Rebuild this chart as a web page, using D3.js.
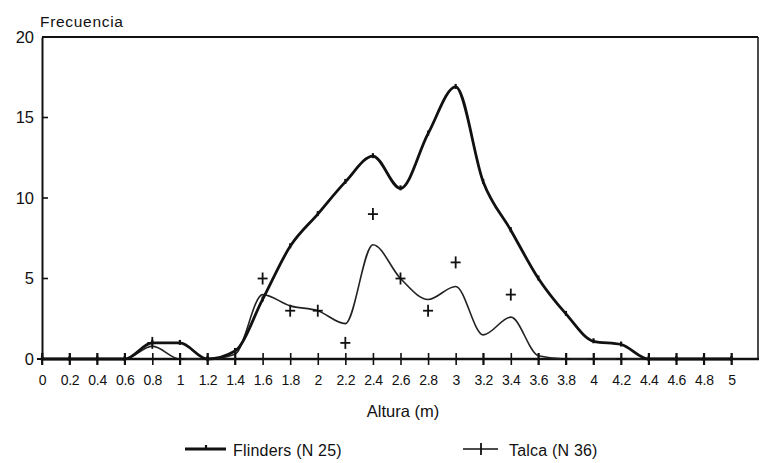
<!DOCTYPE html>
<html>
<head>
<meta charset="utf-8">
<script src="https://cdn.jsdelivr.net/npm/d3@7"></script>
<style>
  html, body { margin: 0; padding: 0; background: #fff; }
  svg { display: block; }
  text { font-family: "Liberation Sans", Arial, sans-serif; fill: #111; }
</style>
</head>
<body>
<svg id="chart" width="761" height="463"></svg>
<script>
// ---- data ----
const alturas = [0, 0.2, 0.4, 0.6, 0.8, 1.0, 1.2, 1.4, 1.6, 1.8, 2.0, 2.2, 2.4, 2.6, 2.8, 3.0, 3.2, 3.4, 3.6, 3.8, 4.0, 4.2, 4.4, 4.6, 4.8, 5.0];
const tickLabels = ["0", "0.2", "0.4", "0.6", "0.8", "1", "1.2", "1.4", "1.6", "1.8", "2", "2.2", "2.4", "2.6", "2.8", "3", "3.2", "3.4", "3.6", "3.8", "4", "4.2", "4.4", "4.6", "4.8", "5"];
const flinders = [0, 0, 0, 0, 1, 1, 0, 0.5, 3.7, 7, 9, 11, 12.6, 10.6, 14, 16.9, 11, 8, 5, 2.8, 1.1, 0.9, 0, 0, 0, 0];
const talcaCurve = [0, 0, 0, 0, 0.8, 0, 0, 0.3, 4.0, 3.3, 3.0, 2.2, 7.1, 5.0, 3.7, 4.5, 1.5, 2.6, 0.2, 0, 0, 0, 0, 0, 0, 0];
const talcaPoints = [0, 0, 0, 0, 1, 0, 0, 0, 5, 3, 3, 1, 9, 5, 3, 6, 0, 4, 0, 0, 0, 0, 0, 0, 0, 0];
const yTicks = [0, 5, 10, 15, 20];
const seriesNames = ["Flinders (N 25)", "Talca (N 36)"];
const yTitle = "Frecuencia";
const xTitle = "Altura (m)";

// ---- layout ----
const svg = d3.select("#chart");
const x = d3.scaleLinear().domain([0, 5.2]).range([42, 759]);
const y = d3.scaleLinear().domain([0, 20]).range([359, 37]);

// frame: top and right
svg.append("line").attr("x1", x(0)).attr("x2", 758).attr("y1", y(20)).attr("y2", y(20))
  .attr("stroke", "#111").attr("stroke-width", 2);
svg.append("line").attr("x1", 758).attr("x2", 758).attr("y1", y(20)).attr("y2", y(0))
  .attr("stroke", "#111").attr("stroke-width", 1.5);

// y axis
const yAxis = d3.axisLeft(y).tickValues(yTicks).tickSize(0).tickPadding(8);
const gy = svg.append("g").attr("transform", `translate(${x(0)},0)`).call(yAxis);
gy.select(".domain").attr("stroke", "#111").attr("stroke-width", 2);
gy.selectAll("text").attr("font-size", 16.5).attr("font-family", "Liberation Sans, Arial, sans-serif").attr("fill", "#111");
// inner ticks on y
svg.append("g").selectAll("line").data(yTicks.filter(d => d > 0 && d < 20)).join("line")
  .attr("x1", x(0)).attr("x2", x(0) + 6).attr("y1", d => y(d)).attr("y2", d => y(d))
  .attr("stroke", "#111").attr("stroke-width", 1.6);
svg.append("line").attr("x1", x(0) - 5).attr("x2", x(0)).attr("y1", y(0)).attr("y2", y(0))
  .attr("stroke", "#111").attr("stroke-width", 2);

// x axis
const xAxis = d3.axisBottom(x).tickValues(alturas).tickSize(6)
  .tickFormat((d, i) => tickLabels[i]).tickPadding(10);
const gx = svg.append("g").attr("transform", `translate(0,${y(0)})`).call(xAxis);
gx.select(".domain").remove();
gx.selectAll(".tick line").attr("y1", -6).attr("y2", 6).attr("stroke", "#111").attr("stroke-width", 1.6);
gx.selectAll("text").attr("font-size", 14).attr("font-family", "Liberation Sans, Arial, sans-serif")
  .attr("fill", "#111").attr("letter-spacing", -0.3);
svg.append("line").attr("x1", x(0)).attr("x2", 759).attr("y1", y(0)).attr("y2", y(0))
  .attr("stroke", "#111").attr("stroke-width", 2.5);

// titles
svg.append("text").attr("x", 40).attr("y", 27).attr("font-size", 15.5).attr("letter-spacing", 0.7).text(yTitle);
svg.append("text").attr("x", 403).attr("y", 417).attr("text-anchor", "middle").attr("font-size", 16.5).text(xTitle);

// lines
const curve = d3.curveMonotoneX;
const lineGen = d3.line().x((d, i) => x(alturas[i])).y(d => y(d)).curve(curve);

svg.append("path").datum(talcaCurve).attr("d", lineGen)
  .attr("fill", "none").attr("stroke", "#222").attr("stroke-width", 1.6);
svg.append("path").datum(flinders).attr("d", lineGen)
  .attr("fill", "none").attr("stroke", "#111").attr("stroke-width", 2.8).attr("stroke-linejoin", "round");

// Flinders small markers
svg.append("g").selectAll("line").data(flinders).join("line")
  .attr("x1", (d, i) => x(alturas[i])).attr("x2", (d, i) => x(alturas[i]))
  .attr("y1", d => y(d) - 3).attr("y2", d => y(d) + 2)
  .attr("stroke", "#111").attr("stroke-width", 2.2);

// Talca + markers
const plus = svg.append("g").selectAll("g").data(talcaPoints).join("g")
  .attr("transform", (d, i) => `translate(${x(alturas[i])},${y(d)})`);
plus.append("line").attr("x1", -5).attr("x2", 5).attr("y1", 0).attr("y2", 0).attr("stroke", "#111").attr("stroke-width", 1.8);
plus.append("line").attr("x1", 0).attr("x2", 0).attr("y1", -6).attr("y2", 6).attr("stroke", "#111").attr("stroke-width", 1.8);

// legend
const lg = svg.append("g");
lg.append("line").attr("x1", 185).attr("x2", 226).attr("y1", 449).attr("y2", 449).attr("stroke", "#111").attr("stroke-width", 2.8);
lg.append("line").attr("x1", 206).attr("x2", 206).attr("y1", 445).attr("y2", 450).attr("stroke", "#111").attr("stroke-width", 2.2);
lg.append("text").attr("x", 233).attr("y", 456).attr("font-size", 16).attr("letter-spacing", 0.2).text(seriesNames[0]);
lg.append("line").attr("x1", 463).attr("x2", 498).attr("y1", 449).attr("y2", 449).attr("stroke", "#111").attr("stroke-width", 1.6);
lg.append("line").attr("x1", 481).attr("x2", 481).attr("y1", 443).attr("y2", 455).attr("stroke", "#111").attr("stroke-width", 1.8);
lg.append("text").attr("x", 509).attr("y", 456).attr("font-size", 16).attr("letter-spacing", 0.2).text(seriesNames[1]);
</script>
</body>
</html>
